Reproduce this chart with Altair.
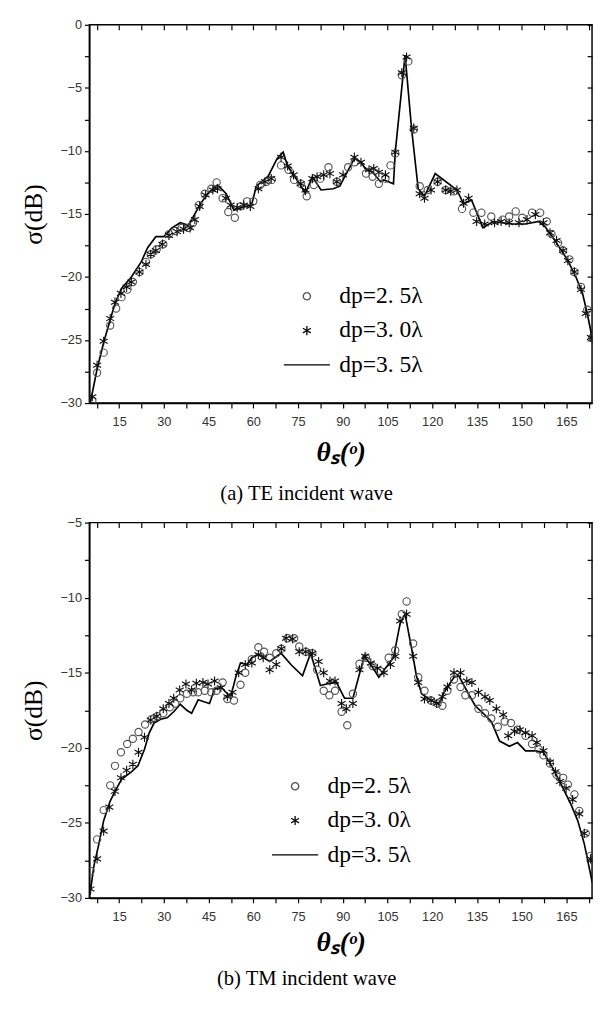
import altair as alt
import pandas as pd

# ---------------- (a) TE incident wave ----------------
te_dp35_line = [(5.4, -29.9), (7.6, -27.3), (9.8, -25.2), (12, -23.4), (13.6, -22.1), (15.8, -20.9),
                (19.1, -20.0), (22.4, -18.8), (24.5, -17.7), (27.3, -16.8), (30, -16.8), (32.7, -16.1),
                (35.5, -15.7), (38.2, -15.9), (39.7, -15.3), (42, -14.3), (44.6, -13.4), (48, -12.7),
                (50.9, -13.4), (53.5, -14.7), (56, -14.5), (59.4, -14.3), (61, -12.8), (65, -12.0),
                (68, -10.6), (70, -10.1), (71.5, -11.2), (75.8, -12.7), (77.4, -13.4), (79.8, -12.05),
                (82.7, -13.1), (86.8, -13.0), (89, -12.8), (93.9, -10.6), (96.1, -10.9), (97.8, -11.5),
                (100, -11.7), (102.7, -12.45), (103.8, -12.3), (107, -12.6), (107.6, -10.1), (110.9, -2.4),
                (113.1, -8.3), (115.3, -13.0), (117.4, -13.6), (121, -11.8), (128.3, -13.1), (130.5, -14.2),
                (133.2, -13.9), (137, -16.1), (140.4, -15.6), (147, -15.8), (151.3, -15.8), (155.7, -15.6),
                (157.8, -16.0), (160, -16.7), (162.8, -17.7), (165.5, -18.7), (168.2, -20.0), (170.4, -21.3),
                (172, -22.9), (173.7, -24.9), (175, -27.5)]

te_dp25 = [(6, -29.8), (7.6, -27.6), (9.8, -26.0), (12, -23.85), (14, -22.5), (15.8, -21.6), (17.8, -21.0),
           (19.6, -20.4), (21.8, -19.6), (24, -18.8), (25.6, -18.2), (27.6, -17.8), (29.8, -17.4),
           (31.7, -16.6), (33.8, -16.35), (36, -16.1), (38.2, -16.1), (39.8, -15.7), (41.7, -14.3),
           (43.7, -13.4), (45.9, -13.0), (47.7, -12.5), (49.7, -13.75), (51.6, -14.85), (53.8, -15.3),
           (55.7, -14.4), (57.9, -14.0), (60, -14.0), (62.3, -12.7), (64.4, -12.45), (66.2, -12.3),
           (69.3, -11.15), (71.8, -11.5), (73.7, -12.3), (75.9, -12.6), (77.9, -13.6), (80.3, -12.7),
           (82.5, -12.2), (85.2, -11.3), (88, -12.45), (91.8, -11.3), (94, -10.9), (97.8, -11.8),
           (100, -12.05), (102.1, -12.6), (104.3, -12.2), (106, -11.15), (107.6, -10.2), (109.8, -4.0),
           (112, -2.9), (113.8, -8.3), (115.8, -12.8), (118.5, -13.1), (121.8, -12.45), (124.5, -13.1),
           (127.3, -13.2), (130, -14.6), (133.8, -14.9), (136.5, -14.9), (139.8, -15.2), (143.6, -15.45),
           (145.8, -15.2), (148, -14.8), (150.2, -15.3), (153.5, -14.9), (156.2, -14.9), (158.4, -15.6),
           (160, -16.6), (162.2, -17.3), (163.9, -17.9), (166, -18.6), (167.7, -19.6), (169.9, -20.8),
           (172, -22.6), (173.7, -24.8)]

te_dp30 = [(6, -29.5), (7.6, -27.0), (9.8, -25.1), (12, -23.3), (13.6, -22.0), (15.6, -21.3), (17.5, -20.8),
           (19.1, -20.4), (21.8, -19.6), (24, -19.0), (25.6, -18.2), (27.3, -17.9), (29.5, -17.4),
           (31.7, -16.7), (34.4, -16.4), (36.6, -16.2), (38.8, -16.1), (40.4, -15.45), (42, -14.4),
           (44, -13.5), (46.4, -13.1), (48, -13.0), (50.8, -13.75), (52.4, -14.3), (54.6, -14.5),
           (56.8, -14.3), (59, -14.4), (61.7, -13.0), (63.9, -12.45), (66, -12.2), (69.3, -10.5),
           (71.5, -11.2), (73.5, -11.9), (75.9, -12.6), (77.5, -13.1), (79.8, -12.2), (81.4, -12.05),
           (83.6, -11.9), (85.7, -11.8), (88, -12.45), (90.1, -11.9), (93.9, -10.5), (96.1, -10.9),
           (98.8, -11.5), (100.4, -11.4), (102.1, -11.7), (104.3, -11.9), (107.6, -10.1), (109.8, -3.8),
           (111.4, -2.55), (113.8, -8.2), (115.8, -13.4), (117.4, -13.75), (119.6, -13.1), (121.8, -12.45),
           (124.5, -13.1), (126.2, -13.2), (128.3, -13.1), (130.5, -14.15), (132.2, -13.75), (134.9, -15.6),
           (137.6, -15.8), (140.9, -15.7), (143.1, -15.6), (145.8, -15.7), (149.1, -15.7), (151.8, -15.45),
           (154.6, -15.05), (157.3, -15.7), (159.5, -16.5), (161.7, -17.1), (163.9, -17.9), (165.5, -18.7),
           (167.7, -19.6), (169.9, -21.0), (171.5, -22.9), (173.2, -24.8)]

# ---------------- (b) TM incident wave ----------------
tm_dp35_line = [(5.2, -29.8), (6.5, -27.9), (8.2, -26.4), (9.8, -24.85), (12, -23.55), (13.6, -22.9),
                (15.8, -22.1), (19.1, -21.6), (21.3, -21.2), (23.5, -20.1), (25.1, -19.0), (26.7, -18.35),
                (28.9, -18.1), (31.1, -18.0), (33.3, -17.6), (35.5, -17.1), (37.7, -17.5), (39.3, -17.7),
                (41.5, -16.8), (43.7, -16.95), (45.3, -17.05), (47, -16.1), (49.1, -15.95), (50.8, -16.3),
                (52.4, -16.6), (54.1, -15.3), (55.7, -14.35), (57.9, -14.45), (59.5, -14.0), (61.7, -13.75),
                (65.5, -14.25), (69.3, -13.7), (72.6, -14.45), (76.5, -15.2), (79.2, -13.7), (82.5, -15.85),
                (84.6, -15.75), (87.9, -15.65), (90.6, -16.7), (93.4, -16.7), (97.2, -13.9), (99.4, -14.45),
                (102.1, -15.3), (104.3, -14.7), (107, -14.0), (109.2, -11.75), (110.9, -11.1), (113.1, -13.4),
                (114.7, -15.2), (116.4, -16.4), (119.6, -16.85), (122.4, -17.05), (124, -16.3), (127.3, -15.3),
                (128.9, -15.2), (131.6, -16.2), (134.4, -17.2), (137.1, -17.7), (139.8, -18.25), (142.6, -19.55),
                (145.9, -19.9), (148.6, -19.65), (151.3, -20.2), (154.6, -20.2), (157.3, -20.3), (159, -20.85),
                (161.1, -21.6), (163.9, -22.7), (166.6, -23.8), (168.8, -24.85), (171, -26.4), (173.7, -29.0)]

tm_dp25 = [(5.4, -28.2), (7.6, -26.1), (9.8, -24.15), (12, -22.5), (13.6, -21.2), (15.6, -20.3), (17.7, -19.75),
           (19.6, -19.4), (21.5, -18.95), (23.7, -18.45), (25.9, -18.1), (27.8, -17.9), (29.8, -17.7),
           (32, -17.3), (33.8, -17.05), (35.5, -16.7), (37.7, -16.4), (39.8, -16.3), (41.5, -16.3),
           (43.7, -16.2), (45.9, -16.3), (47.6, -16.2), (49.7, -15.65), (51.3, -16.75), (53.5, -16.85),
           (55.7, -15.8), (57.3, -15.0), (59.5, -14.1), (61.7, -13.3), (63.6, -13.6), (65.5, -14.0),
           (67.7, -13.7), (69.4, -13.4), (71.5, -12.7), (73.7, -12.7), (75.4, -13.25), (77.6, -13.6),
           (79.8, -13.7), (81.4, -14.8), (83.6, -16.2), (85.5, -16.5), (87.4, -16.2), (89.6, -17.6),
           (91.5, -18.5), (93.4, -16.4), (95.6, -14.4), (97.8, -14.0), (100, -14.55), (102.7, -14.9),
           (105.4, -14.0), (107.6, -13.5), (109.8, -11.1), (111.4, -10.25), (113.6, -13.05), (115.3, -15.3),
           (117.4, -16.2), (119.6, -16.85), (121.8, -17.05), (123.4, -17.2), (125.1, -16.2), (127.3, -15.45),
           (129.5, -15.95), (131.1, -16.5), (133.3, -16.5), (135.5, -17.4), (137.7, -17.7), (139.8, -18.05),
           (142, -18.6), (144.3, -18.25), (146.4, -18.35), (148.6, -18.8), (151.3, -19.2), (153.5, -19.75),
           (155.7, -20.1), (157.3, -20.5), (159.5, -21.05), (161.7, -21.8), (163.9, -22.0), (165.5, -22.45),
           (167.7, -23.1), (169.3, -24.2), (171.5, -25.7), (173.1, -27.2)]

tm_dp30 = [(5.4, -29.4), (7.6, -27.4), (9.8, -25.55), (11.7, -23.95), (13.6, -22.9), (15.6, -22.0), (17.5, -21.5),
           (19.6, -21.1), (21.5, -20.3), (23.5, -19.3), (25.6, -18.15), (27.6, -17.9), (29.8, -17.4),
           (31.7, -17.05), (33.3, -16.7), (35.3, -16.15), (37.4, -15.75), (39.3, -16.15), (40.9, -15.7),
           (43.1, -15.65), (44.8, -15.75), (47, -15.55), (49.1, -16.0), (51.3, -16.6), (53, -16.3),
           (55.1, -15.0), (57.3, -14.45), (59.5, -14.35), (61.7, -13.8), (63.3, -14.0), (65.5, -14.8),
           (67.7, -14.45), (69.4, -13.4), (71, -12.7), (73.2, -12.75), (75.4, -13.6), (77.6, -13.6),
           (79.8, -13.7), (81.9, -14.25), (83.6, -15.0), (85.7, -15.55), (87.4, -15.55), (89.6, -17.05),
           (91.2, -17.4), (93.4, -17.05), (95.6, -14.8), (97.5, -13.9), (99.4, -14.35), (101.6, -14.7),
           (103.8, -15.0), (106, -14.45), (107.6, -13.9), (109.2, -11.55), (111.4, -11.1), (113.6, -13.9),
           (115.3, -15.65), (117.4, -16.75), (119.6, -16.85), (121.5, -17.05), (123.4, -16.6), (125.1, -15.95),
           (127.3, -15.0), (129.5, -15.0), (131.6, -15.55), (133.3, -15.65), (135.5, -16.3), (137.7, -16.6),
           (139.3, -16.85), (141.5, -17.4), (143.8, -17.8), (145.5, -19.2), (147.6, -18.9), (149.4, -18.8),
           (151.3, -19.0), (153.5, -19.2), (155.1, -19.65), (157.3, -20.2), (159.5, -20.95), (161.3, -21.6),
           (162.8, -22.25), (164.9, -22.7), (167.1, -23.45), (169.3, -24.4), (171, -25.7), (173.1, -27.4)]

# ---------------- labels / ticks ----------------
series_names = ["dp=2. 5λ", "dp=3. 0λ", "dp=3. 5λ"]
x_tick_values = [7.5, 15, 22.5, 30, 37.5, 45, 52.5, 60, 67.5, 75, 82.5, 90, 97.5, 105, 112.5, 120,
                 127.5, 135, 142.5, 150, 157.5, 165, 172.5]
te_y_ticks = [-30, -27.5, -25, -22.5, -20, -17.5, -15, -12.5, -10, -7.5, -5, -2.5, 0]
tm_y_ticks = [-30, -27.5, -25, -22.5, -20, -17.5, -15, -12.5, -10, -7.5, -5]
x_title = "θₛ(ᵒ)"
y_title = "σ(dB)"
captions = ["(a) TE incident wave", "(b) TM incident wave"]

ASTERISK = "M0,-1L0,1M-0.87,-0.5L0.87,0.5M-0.87,0.5L0.87,-0.5"
LEGEND_LINE = "M-4.3,0L4.3,0"

PLOT_W = 513
X_DOMAIN = [5, 173.6]


def panel(line_pts, c_pts, s_pts, ydom, yticks, h, caption, legx, legy, title_pad, cap_offset):
    pts = pd.DataFrame(
        [(a, b, series_names[0]) for a, b in c_pts] + [(a, b, series_names[1]) for a, b in s_pts],
        columns=["theta", "sigma", "series"])
    ln = pd.DataFrame(line_pts, columns=["theta", "sigma"])
    xs = alt.Scale(domain=X_DOMAIN, nice=False, zero=False)
    ys = alt.Scale(domain=ydom, nice=False, zero=False)

    bottom_axis = alt.Axis(orient="bottom", values=x_tick_values,
                           labelExpr="datum.value % 15 === 0 ? datum.label : ''",
                           tickSize=5, labelPadding=8, title=x_title,
                           titleFont="Liberation Serif", titleFontSize=28, titleFontStyle="italic",
                           titleFontWeight="bold", titleColor="black", titlePadding=title_pad)
    left_axis = alt.Axis(orient="left", values=yticks,
                         labelExpr="datum.value % 5 === 0 ? datum.label : ''",
                         tickSize=5, labelPadding=3, title=y_title,
                         titleFont="Liberation Serif", titleFontSize=26, titleFontWeight="normal",
                         titleColor="black", titlePadding=14)
    top_axis = alt.Axis(orient="top", values=x_tick_values, labels=False, domain=False,
                        tickSize=5, offset=-5, title=None, minExtent=0, maxExtent=0)
    right_axis = alt.Axis(orient="right", values=yticks, labels=False, domain=False,
                          tickSize=5, offset=-5, title=None, minExtent=0, maxExtent=0)

    leg = alt.Legend(orient="none", legendX=legx, legendY=legy, title=None,
                     labelFont="Liberation Serif", labelFontSize=24, labelColor="black",
                     symbolSize=85, symbolStrokeWidth=1.4, labelOffset=21, rowPadding=11,
                     padding=0, symbolOffset=0)

    line = alt.Chart(ln).mark_line(color="black", strokeWidth=1.7, clip=True).encode(
        x=alt.X("theta:Q", scale=xs, axis=bottom_axis),
        y=alt.Y("sigma:Q", scale=ys, axis=left_axis),
    )
    markers = alt.Chart(pts).mark_point(filled=False, strokeWidth=1.15, opacity=1, clip=True).encode(
        x=alt.X("theta:Q", scale=xs, axis=top_axis),
        y=alt.Y("sigma:Q", scale=ys, axis=right_axis),
        shape=alt.Shape("series:N", scale=alt.Scale(domain=series_names,
                                                     range=["circle", ASTERISK, LEGEND_LINE]), legend=leg),
        color=alt.Color("series:N", scale=alt.Scale(domain=series_names,
                                                     range=["#555555", "#111111", "#000000"]), legend=leg),
        size=alt.Size("series:N", scale=alt.Scale(domain=series_names, range=[55, 120, 120]), legend=None),
    )
    return alt.layer(line, markers).resolve_axis(x="independent", y="independent").properties(
        width=PLOT_W, height=h,
        title=alt.TitleParams(caption, orient="bottom", anchor="middle", frame="bounds",
                              font="Liberation Serif", fontSize=21, fontWeight="normal",
                              color="black", offset=cap_offset))


top = panel(te_dp35_line, te_dp25, te_dp30, [-30, 0], te_y_ticks, 386, captions[0], 210, 265, 11, 17)
bottom = panel(tm_dp35_line, tm_dp25, tm_dp30, [-30, -5], tm_y_ticks, 383, captions[1], 198, 257, 6, 12)

chart = alt.vconcat(top, bottom, spacing=11).resolve_scale(
    x="independent", y="independent", shape="independent", color="independent", size="independent"
).resolve_legend(shape="independent", color="independent").configure_view(
    stroke="black", strokeWidth=1.5
).configure_axis(
    domainColor="black", domainWidth=1.5, tickColor="black", tickWidth=1.2, grid=False,
    labelFont="Liberation Sans", labelFontSize=13, labelColor="#333333"
).properties(
    padding={"left": 12, "top": 0, "right": 0, "bottom": 0}, background="white"
)

chart.save("out.html", embed_options={"renderer": "svg", "actions": False})
